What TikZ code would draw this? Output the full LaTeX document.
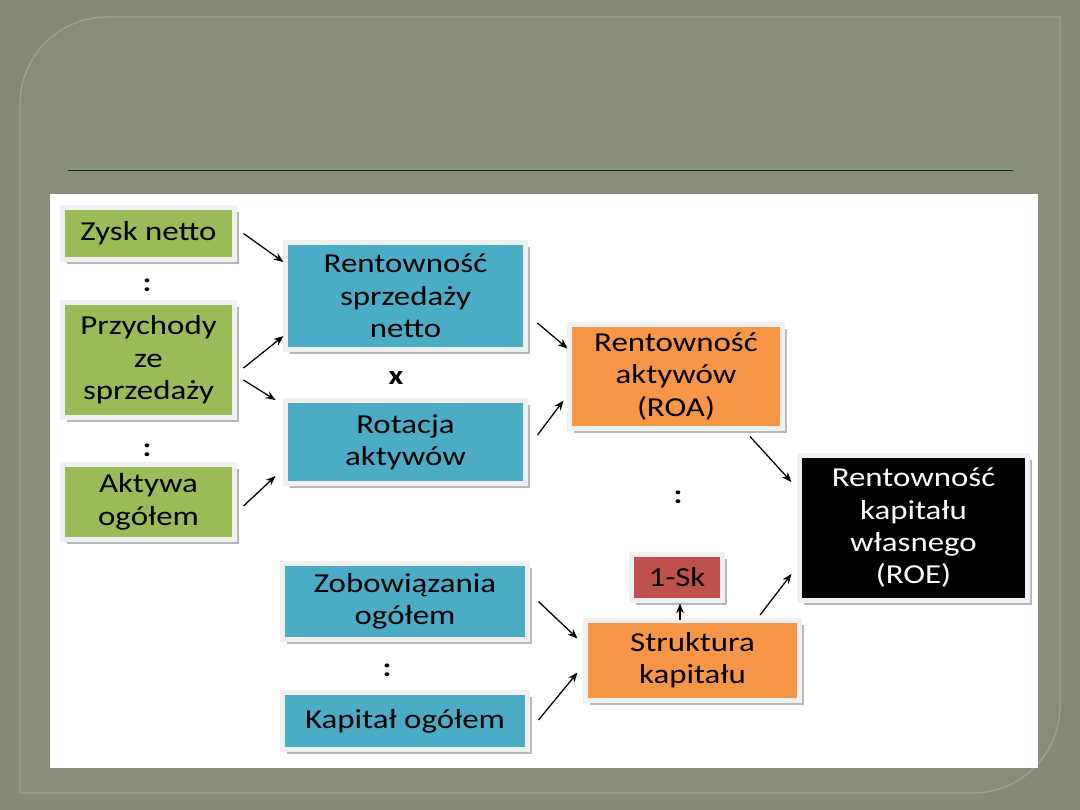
\documentclass[tikz,border=0pt]{standalone}
\usepackage{fontspec}
\setmainfont[FakeStretch=1.2]{Carlito}
\usepackage{tikz}
\usetikzlibrary{arrows.meta,shadows}
\definecolor{slideBg}{HTML}{858A76}
\definecolor{slideIn}{HTML}{888C7A}
\definecolor{slideRim}{HTML}{9DA18E}
\definecolor{ruleDark}{HTML}{1F2A1F}
\definecolor{ruleGreen}{HTML}{7E9C6E}
\definecolor{boxGreen}{HTML}{9BBB59}
\definecolor{boxBlue}{HTML}{4BACC6}
\definecolor{boxOrange}{HTML}{F79646}
\definecolor{boxRed}{HTML}{C0504D}
\definecolor{boxRim}{HTML}{F0F0F0}

\begin{document}
\begin{tikzpicture}[
    x=0.025cm, y=-0.025cm,
    align=center,
    block/.style = {rectangle, draw=boxRim, line width=3.5pt, inner sep=0pt, outer sep=0pt,
        font=\fontsize{19.5}{23}\selectfont, text=black,
        drop shadow={shadow xshift=0.12cm, shadow yshift=-0.12cm, fill=black!28, opacity=1}},
    size/.style 2 args = {minimum width=#1*0.025cm, minimum height=#2*0.025cm},
    sep/.style = {font=\fontsize{19}{20}\selectfont\bfseries, inner sep=0pt},
    arrow/.style = {-{Stealth[length=7pt,width=5.5pt]}, line width=0.9pt}
]
    % Slide background
    \fill[slideBg] (0,0) rectangle (1080,810);
    \draw[slideRim, fill=slideIn, line width=1pt] (20,793) -- (20,104)
        .. controls (20,56) and (59,17) .. (107,17) -- (1060,17) -- (1060,706)
        .. controls (1060,754) and (1021,793) .. (973,793) -- cycle;
    \draw[ruleGreen, line width=1pt] (68,168.8) -- (1013,168.8);
    \draw[ruleDark, line width=1pt] (68,170.3) -- (1013,170.3);
    \fill[white] (50,194) rectangle (1038,768);
    \useasboundingbox (0,0) rectangle (1080,810);

    % Inputs
    \node[block, fill=boxGreen, size={172}{52}] (zysk) at (148.5,233.5) {Zysk netto};
    \node[block, fill=boxGreen, size={172}{115}] (przych) at (148.5,360) {Przychody\\ze\\sprzedaży};
    \node[block, fill=boxGreen, size={172}{75}] (aktywa) at (148.5,502) {Aktywa\\ogółem};
    \node[block, fill=boxBlue, size={240}{107}] (rsn) at (405.5,296) {Rentowność\\sprzedaży\\netto};
    \node[block, fill=boxBlue, size={240}{83}] (rot) at (405.5,442) {Rotacja\\aktywów};
    \node[block, fill=boxBlue, size={245}{76}] (zobow) at (405,601.5) {Zobowiązania\\ogółem};
    \node[block, fill=boxBlue, size={245}{57}] (kapital) at (405,721) {Kapitał ogółem};

    % Ratios
    \node[block, fill=boxOrange, size={213}{104}] (roa) at (676,376.5) {Rentowność\\aktywów\\(ROA)};
    \node[block, fill=boxOrange, size={214}{80}] (strukt) at (692.5,660.5) {Struktura\\kapitału};
    \node[block, fill=boxRed, size={91}{46}] (onesk) at (677,577.5) {1-Sk};
    \node[block, fill=black, text=white, size={228}{145}] (roe) at (913.5,528) {Rentowność\\kapitału\\własnego\\(ROE)};

    % Operators
    \node[sep] (d1) at (147,285) {:};
    \node[sep] (d2) at (147,450) {:};
    \node[sep] (m1) at (396,378) {x};
    \node[sep] (d3) at (678,497) {:};
    \node[sep] (d4) at (387,670) {:};

    % Connections
    \draw[arrow] ([shift={(9,0)}]zysk.east) -- ([shift={(-2,-34)}]rsn.west);
    \draw[arrow] ([shift={(9,8)}]przych.east) -- ([shift={(-2,40)}]rsn.west);
    \draw[arrow] ([shift={(9,20)}]przych.east) -- ([shift={(-10,-42)}]rot.west);
    \draw[arrow] ([shift={(9,4)}]aktywa.east) -- ([shift={(-10,34)}]rot.west);
    \draw[arrow] ([shift={(12,27)}]rsn.east) -- ([shift={(-2,-28)}]roa.west);
    \draw[arrow] ([shift={(12,-7)}]rot.east) -- ([shift={(-6,24)}]roa.west);
    \draw[arrow] ([shift={(74,8)}]roa.south) -- ([shift={(-8,-46)}]roe.west);
    \draw[arrow] ([shift={(11,0)}]zobow.east) -- ([shift={(-8,-22)}]strukt.west);
    \draw[arrow] ([shift={(11,-1)}]kapital.east) -- ([shift={(-8,12)}]strukt.west);
    \draw[arrow] ([shift={(-12.5,-1)}]strukt.north) -- ([shift={(3,3)}]onesk.south);
    \draw[arrow] ([shift={(-39.5,-5.5)}]strukt.north east) -- ([shift={(-8,46)}]roe.west);
\end{tikzpicture}
\end{document}
